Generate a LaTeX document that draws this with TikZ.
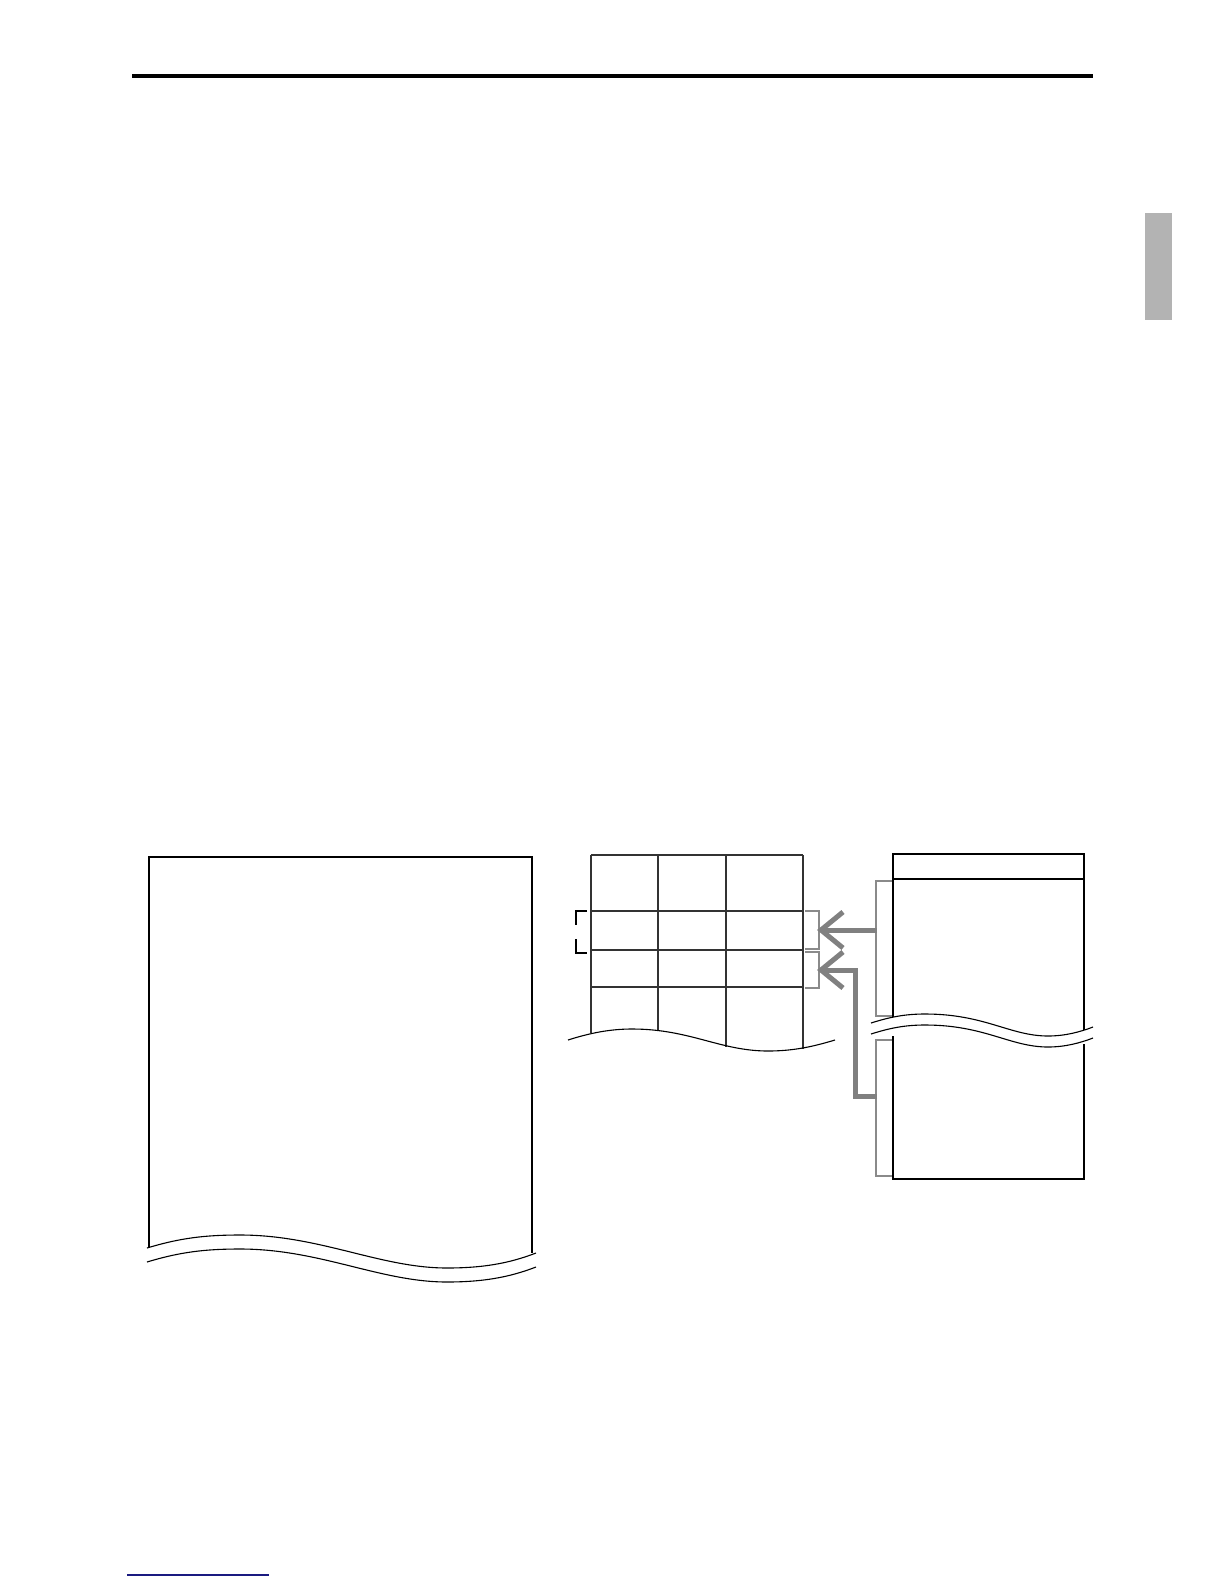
\documentclass[tikz,border=0pt]{standalone}
\definecolor{tabgray}{HTML}{B3B3B3}
\definecolor{arrgray}{HTML}{808080}
\definecolor{brkgray}{HTML}{8A8A8A}
\definecolor{linkblue}{HTML}{1A1A80}
\begin{document}
\begin{tikzpicture}[x=1pt,y=-1pt,
  outline/.style={line width=1.3pt,black},
  wave/.style={line width=1.1pt,black},
  gridline/.style={line width=1.3pt,black!80},
  bracketk/.style={line width=1.3pt,black},
  bracketg/.style={line width=1.8pt,brkgray},
  bigarrow/.style={line width=5pt,arrgray},
  chev/.style={line width=5pt,arrgray,line cap=butt,line join=miter}]
\useasboundingbox (0,0) rectangle (1224,1584);
% top rule
\draw[line width=4.5pt] (132,76) -- (1093,76);
% side tab
\fill[tabgray] (1145,213) rectangle (1172,320);
% footer link line
\draw[linkblue,line width=1.2pt] (127,1575) -- (269,1575);

% ---------- left receipt ----------
\draw[outline] (149,1247) -- (149,857) -- (532,857) -- (532,1253);
\draw[wave] (147,1248) .. controls (180,1238) and (205,1235) .. (240,1235)
  .. controls (320,1235) and (380,1268) .. (447,1268)
  .. controls (490,1268) and (515,1261) .. (536,1253);
\draw[wave] (147,1262) .. controls (180,1252) and (205,1249) .. (240,1249)
  .. controls (320,1249) and (380,1282) .. (447,1282)
  .. controls (490,1282) and (515,1275) .. (536,1267);

% ---------- middle grid ----------
\coordinate (g0) at (591,855);
\draw[gridline] (591,855) -- (803,855);
\draw[gridline] (591,911) -- (803,911);
\draw[gridline] (591,950) -- (803,950);
\draw[gridline] (591,987) -- (803,987);
\draw[gridline] (591,855) -- (591,1033);
\draw[gridline] (658,855) -- (658,1031);
\draw[gridline] (726,855) -- (726,1047);
\draw[gridline] (803,855) -- (803,1049);
\draw[wave] (568,1040) .. controls (590,1033) and (610,1029) .. (632,1029)
  .. controls (690,1029) and (720,1051) .. (768,1051)
  .. controls (795,1051) and (815,1046) .. (835,1040);
% left black bracket
\draw[bracketk] (587,911) -- (576,911) -- (576,925);
\draw[bracketk] (576,939) -- (576,953) -- (587,953);
% right gray brackets
\draw[bracketg] (805,911) -- (819,911) -- (819,949) -- (805,949);
\draw[bracketg] (805,952) -- (819,952) -- (819,988) -- (805,988);

% ---------- right box ----------
\draw[outline] (893,1022) -- (893,854) -- (1084,854) -- (1084,1030);
\draw[outline] (893,879) -- (1084,879);
\draw[outline] (893,1036) -- (893,1179) -- (1084,1179) -- (1084,1044);
\fill[white] (871,1023) .. controls (890,1017) and (905,1014) .. (925,1014)
  .. controls (985,1014) and (1010,1036) .. (1048,1036)
  .. controls (1065,1036) and (1080,1032) .. (1093,1027)
  -- (1093,1038)
  .. controls (1080,1043) and (1065,1047) .. (1048,1047)
  .. controls (1010,1047) and (985,1025) .. (925,1025)
  .. controls (905,1025) and (890,1028) .. (871,1034) -- cycle;
\draw[wave] (871,1023) .. controls (890,1017) and (905,1014) .. (925,1014)
  .. controls (985,1014) and (1010,1036) .. (1048,1036)
  .. controls (1065,1036) and (1080,1032) .. (1093,1027);
\draw[wave] (871,1034) .. controls (890,1028) and (905,1025) .. (925,1025)
  .. controls (985,1025) and (1010,1047) .. (1048,1047)
  .. controls (1065,1047) and (1080,1043) .. (1093,1038);
% gray brackets of right box
\draw[bracketg] (892,881) -- (876,881) -- (876,1016) -- (892,1016);
\draw[bracketg] (892,1040) -- (876,1040) -- (876,1176) -- (892,1176);

% ---------- arrows ----------
\coordinate (a1tip) at (821,930);
\coordinate (a1end) at (877,930);
\coordinate (a2tip) at (821,970);
\coordinate (a2c1) at (855,970);
\coordinate (a2c2) at (855,1096);
\coordinate (a2end) at (877,1096);
\draw[bigarrow] (a1end) -- ([xshift=3pt]a1tip);
\draw[chev] (843,912) -- (a1tip) -- (843,948);
\draw[bigarrow,line join=miter] (a2end) -- (a2c2) -- (a2c1) -- ([xshift=3pt]a2tip);
\draw[chev] (843,952) -- (a2tip) -- (843,988);
\end{tikzpicture}
\end{document}
